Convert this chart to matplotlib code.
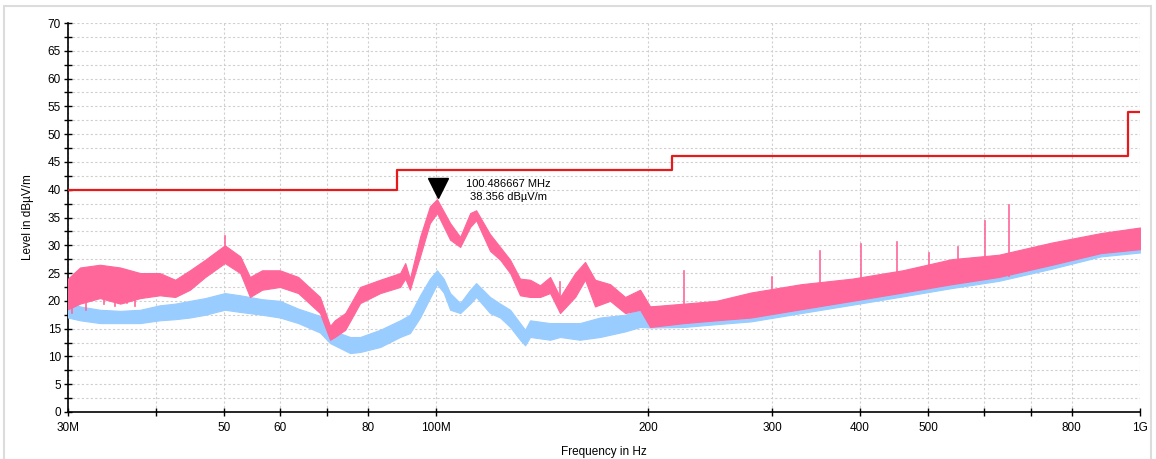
import matplotlib
matplotlib.use("Agg")
import matplotlib.pyplot as plt
from matplotlib.patches import Rectangle
from matplotlib.transforms import offset_copy
from matplotlib.ticker import FixedLocator, FixedFormatter, MultipleLocator, NullFormatter

plt.rcParams['font.family'] = ['Liberation Sans', 'DejaVu Sans']

# Peak detector trace (MHz, lower / upper edge of the noise band in dBuV/m)
peak_freq = [30.0, 31.2, 33.3, 35.6, 38.0, 40.5, 42.6, 44.7, 47.0, 50.1, 52.7, 54.4,
             56.6, 60.0, 63.7, 68.4, 70.7, 71.8, 74.3, 78.0, 83.3, 88.9, 90.4, 91.8,
             94.9, 98.0, 100.3, 104.7, 108.2, 111.8, 114.0, 119.3, 123.3, 127.4, 131.6,
             136.0, 140.5, 145.2, 150.0, 157.6, 162.8, 168.2, 176.7, 185.6, 194.9, 201.4,
             225.0, 250.0, 280.0, 330.0, 390.0, 460.0, 540.0, 630.0, 750.0, 880.0, 1000.0]
peak_lo = [18.5, 19.5, 20.5, 19.5, 20.5, 21.0, 20.7, 22.0, 24.3, 26.8, 25.0, 20.7,
           22.0, 22.5, 21.4, 17.8, 13.0, 13.5, 14.8, 19.6, 21.4, 22.5, 24.0, 22.0,
           28.0, 34.0, 35.8, 31.0, 29.7, 33.3, 34.5, 29.0, 27.4, 25.0, 21.0,
           20.7, 20.7, 21.4, 17.8, 20.7, 23.8, 19.0, 20.0, 17.8, 18.4, 15.3,
           16.0, 16.5, 17.0, 18.5, 20.0, 21.5, 23.0, 24.3, 26.5, 28.6, 29.3]
peak_hi = [24.0, 26.0, 26.5, 26.0, 25.0, 25.0, 23.8, 25.5, 27.4, 30.0, 28.0, 24.3,
           25.5, 25.5, 24.3, 20.7, 15.5, 16.5, 17.8, 22.5, 23.8, 25.0, 26.8, 24.0,
           31.5, 37.0, 38.3, 34.0, 31.5, 35.8, 36.3, 32.0, 29.7, 27.4, 24.0,
           23.8, 22.8, 24.3, 20.7, 25.0, 27.0, 23.8, 23.0, 20.7, 22.0, 19.0,
           19.5, 20.0, 21.5, 23.0, 24.0, 25.5, 27.5, 28.3, 30.5, 32.2, 33.2]

# Isolated narrow-band peaks of the peak trace (MHz, base / top in dBuV/m)
peak_spike_freq = [50.1, 150.0, 225.0, 300.0, 351.0, 402.0, 452.0, 502.0, 551.0, 602.0, 652.0]
peak_spike_base = [27.0, 19.0, 17.5, 18.5, 19.5, 20.5, 21.5, 22.5, 23.5, 24.0, 24.5]
peak_spike_top = [31.7, 23.4, 25.4, 24.3, 29.0, 30.2, 30.6, 28.6, 29.7, 34.4, 37.2]

# Downward excursions of the peak trace at the low end (MHz, dBuV/m)
peak_dip_freq = [30.4, 31.8, 33.8, 35.0, 36.4, 37.4]
peak_dip_bottom = [17.8, 18.4, 19.5, 19.0, 19.6, 19.0]

# Average detector trace (MHz, lower / upper edge in dBuV/m)
avg_freq = [30.0, 31.2, 33.3, 35.6, 38.0, 40.5, 42.6, 44.7, 47.0, 50.1, 52.7, 56.6,
            60.0, 63.7, 68.4, 70.7, 75.5, 78.0, 83.3, 88.9, 91.8, 94.9, 98.0, 100.3,
            102.5, 104.7, 108.2, 111.8, 114.0, 119.3, 123.3, 127.4, 131.6, 133.8,
            136.0, 145.2, 150.0, 160.0, 171.0, 185.6, 194.9, 201.4,
            225.0, 250.0, 280.0, 330.0, 390.0, 460.0, 540.0, 630.0, 750.0, 880.0, 1000.0]
avg_lo = [17.0, 16.5, 16.0, 16.0, 16.0, 16.5, 16.7, 17.0, 17.5, 18.4, 18.0, 17.5,
          17.0, 16.0, 14.3, 12.4, 10.6, 10.8, 11.7, 13.5, 14.2, 17.0, 20.5, 23.0,
          21.5, 18.4, 17.8, 19.5, 20.7, 17.8, 17.0, 15.3, 13.0, 12.0,
          13.5, 13.0, 13.5, 13.0, 13.5, 14.5, 15.3, 15.2,
          15.3, 15.8, 16.3, 17.8, 19.3, 20.8, 22.3, 23.6, 25.8, 28.0, 28.7]
avg_hi = [20.0, 19.0, 18.4, 18.2, 18.4, 19.2, 19.5, 20.0, 20.5, 21.4, 21.0, 20.3,
          20.0, 18.6, 17.3, 14.8, 13.5, 13.5, 14.8, 16.5, 17.5, 21.0, 24.0, 25.5,
          24.0, 21.4, 19.6, 22.0, 23.2, 20.7, 19.5, 18.4, 16.0, 14.8,
          16.5, 16.0, 16.0, 16.0, 17.0, 17.5, 18.4, 19.0,
          19.2, 19.7, 21.2, 22.7, 23.7, 25.2, 27.2, 28.0, 30.2, 32.0, 33.0]

# Limit line (MHz, dBuV/m)
limit_freq = [30.0, 88.0, 88.0, 216.0, 216.0, 960.0, 960.0, 1000.0]
limit_level = [40.0, 40.0, 43.5, 43.5, 46.0, 46.0, 54.0, 54.0]

# Marker
marker_freq = 100.486667
marker_level = 38.356

# Axis ticks
x_ticks = [30, 40, 50, 60, 70, 80, 100, 200, 300, 400, 500, 600, 700, 800, 1000]
x_tick_labels = ['30M', '', '50', '60', '', '80', '100M', '200', '300', '400', '500',
                 '', '', '800', '1G']

PINK = '#ff6699'
BLUE = '#99ccff'
GRID = '#cfcfcf'

fig = plt.figure(figsize=(11.56, 4.59), dpi=100)
ax = fig.add_axes([68 / 1156, 1 - 412 / 459, (1140 - 68) / 1156, (412 - 23) / 459])

ax.set_xscale('log')
ax.set_xlim(30, 1000)
ax.set_ylim(0, 70)

ax.fill_between(avg_freq, avg_lo, avg_hi, color=BLUE, lw=0.8, zorder=3)
ax.fill_between(peak_freq, peak_lo, peak_hi, color=PINK, lw=0.8, zorder=4)

for f, base, top in zip(peak_spike_freq, peak_spike_base, peak_spike_top):
    ax.plot([f, f], [base, top], color=PINK, lw=1.2, zorder=4)
for f, bot in zip(peak_dip_freq, peak_dip_bottom):
    ax.plot([f, f], [bot, bot + 5], color=PINK, lw=1.2, zorder=4)

ax.plot(limit_freq, limit_level, color='#e8191b', lw=1.6, zorder=5)

ms = 15
ax.plot([marker_freq], [marker_level], marker='v', ms=ms, color='black',
        ls='none', zorder=6,
        transform=offset_copy(ax.transData, fig=fig, x=0, y=ms / 2, units='points'))
ax.annotate(f"{marker_freq:.6f} MHz\n{marker_level:.3f} dB\u00b5V/m",
            xy=(marker_freq, marker_level), xytext=(51, 6), textcoords='offset points',
            ha='center', va='center', fontsize=8, linespacing=1.35, zorder=7)

# Axes styling
ax.xaxis.set_major_locator(FixedLocator(x_ticks))
ax.xaxis.set_major_formatter(FixedFormatter(x_tick_labels))
ax.xaxis.set_minor_locator(FixedLocator([]))
ax.xaxis.set_minor_formatter(NullFormatter())
ax.yaxis.set_major_locator(MultipleLocator(5))
ax.yaxis.set_minor_locator(MultipleLocator(2.5))

ax.tick_params(axis='both', which='both', direction='inout', length=6, width=1,
               labelsize=8.5, colors='black')
ax.tick_params(axis='x', pad=4)
ax.tick_params(axis='y', pad=2)

ax.grid(True, which='both', axis='y', color=GRID, lw=0.8, ls=(0, (2, 2)), zorder=0)
ax.grid(True, which='major', axis='x', color=GRID, lw=0.8, ls=(0, (2, 2)), zorder=0)

for side in ('top', 'right'):
    ax.spines[side].set_visible(False)
for side in ('left', 'bottom'):
    ax.spines[side].set_linewidth(1.2)

ax.set_xlabel('Frequency in Hz', fontsize=8.5, labelpad=9)
ax.set_ylabel('Level in dB\u00b5V/m', fontsize=8.5, labelpad=10)

fig.patches.append(Rectangle((4 / 1156, -0.2), (1151 - 4) / 1156, 1.2 - 6 / 459,
                             transform=fig.transFigure, fill=False,
                             edgecolor='#dcdcdc', lw=1.5, zorder=0))

fig.savefig('out.png', dpi=100)
